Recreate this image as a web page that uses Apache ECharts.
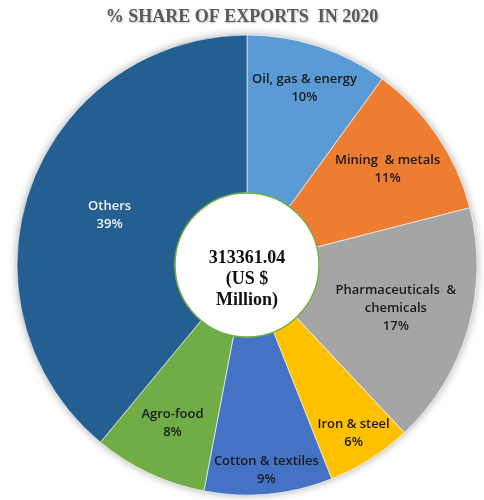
<!DOCTYPE html>
<html>
<head>
<meta charset="utf-8">
<script src="https://cdn.jsdelivr.net/npm/echarts@6/dist/echarts.min.js"></script>
<style>
  html, body { margin:0; padding:0; background:#fff; }
  #chart { width:484px; height:500px; }
</style>
</head>
<body>
<div id="chart"></div>
<script>
// --- data ---
const sectors = ['Oil, gas & energy', 'Mining  & metals', 'Pharmaceuticals  &\nchemicals', 'Iron & steel', 'Cotton & textiles', 'Agro-food', 'Others'];
const shares  = [10, 11, 17, 6, 9, 8, 39];
const totalText = '313361.04';
const totalUnit = '(US $\nMillion)';

// --- look ---
const colors = ['#5b9bd5', '#ed7d31', '#a5a5a5', '#ffc000', '#4472c4', '#70ad47', '#255e91'];
const CX = 247, CY = 265, R = 230, R0 = 72;
// distance of each label from the centre (Excel "best fit" places them unevenly)
const labelDist = [186, 170, 155, 199, 206, 175, 146];

const chart = echarts.init(document.getElementById('chart'));

chart.setOption({
  animation: false,
  title: {
    text: '% SHARE OF EXPORTS  IN 2020',
    left: 'center', top: 3,
    textStyle: { fontFamily: 'Liberation Serif', fontWeight: 'bold', fontSize: 18, color: '#595959',
      textShadowColor: 'rgba(0,0,0,0.25)', textShadowBlur: 2, textShadowOffsetX: 1, textShadowOffsetY: 1 }
  },
  series: [
    { // soft shadow under the whole pie
      type: 'pie', silent: true, z: 1,
      center: [CX, CY], radius: [0, R],
      label: { show: false },
      itemStyle: { color: '#fff', shadowBlur: 8, shadowColor: 'rgba(0,0,0,0.35)' },
      data: [{ value: 1 }]
    },
    {
      type: 'pie', z: 2,
      center: [CX, CY], radius: [R0, R],
      startAngle: 90, clockwise: true,
      itemStyle: { borderColor: '#fff', borderWidth: 0.6 },
      label: {
        position: 'inside',
        fontFamily: 'Open Sans', fontWeight: 600, fontSize: 13, lineHeight: 18,
        color: '#1a1a1a',
        formatter: p => `${p.name}\n${p.value}%`
      },
      labelLayout: p => {
        const lx = p.labelRect.x + p.labelRect.width / 2;
        const ly = p.labelRect.y + p.labelRect.height / 2;
        const d = Math.hypot(lx - CX, ly - CY) || 1;
        const k = labelDist[p.dataIndex] / d - 1;
        return { dx: (lx - CX) * k, dy: (ly - CY) * k };
      },
      data: sectors.map((n, i) => ({
        name: n, value: shares[i],
        itemStyle: { color: colors[i] },
        label: i === sectors.length - 1 ? { color: '#f2f2f2' } : undefined
      }))
    },
    { // centre disc with total
      type: 'pie', silent: true, z: 3,
      center: [CX, CY], radius: [0, R0],
      itemStyle: { color: '#fff', borderColor: '#70ad47', borderWidth: 1.5 },
      label: {
        position: 'center',
        fontFamily: 'Liberation Serif', fontWeight: 'bold', fontSize: 18, lineHeight: 21,
        color: '#111',
        formatter: () => totalText + '\n' + totalUnit
      },
      labelLayout: () => ({ dy: 14 }),
      data: [{ value: 1, name: 'total' }]
    }
  ]
});
</script>
</body>
</html>
